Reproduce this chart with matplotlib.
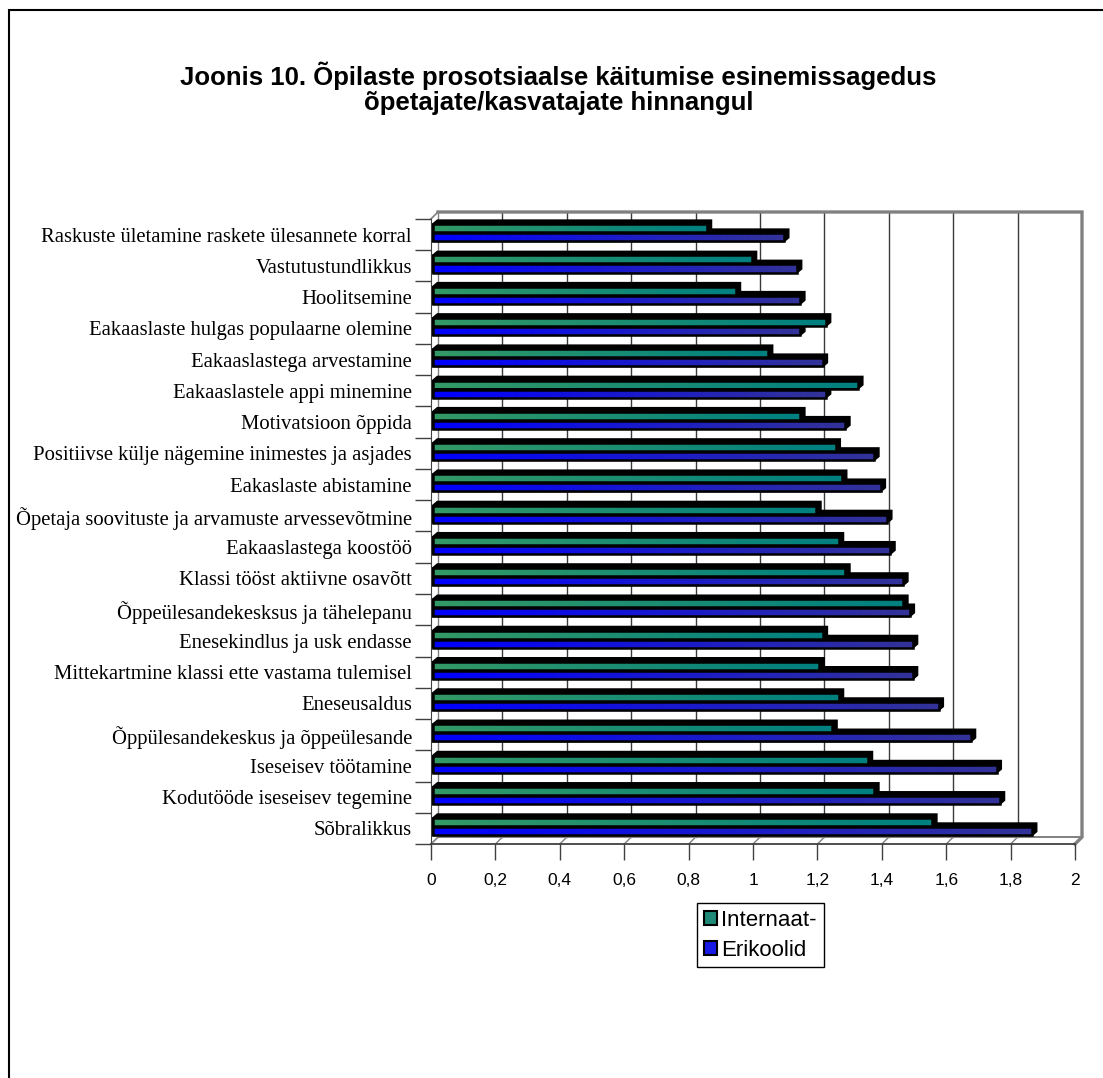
import matplotlib
matplotlib.use('Agg')
import matplotlib.pyplot as plt
from matplotlib.patches import Polygon, Patch, Rectangle
from matplotlib.colors import LinearSegmentedColormap
import numpy as np

categories = [
    'Raskuste ületamine raskete ülesannete korral',
    'Vastutustundlikkus',
    'Hoolitsemine',
    'Eakaaslaste hulgas populaarne olemine',
    'Eakaaslastega arvestamine',
    'Eakaaslastele appi minemine',
    'Motivatsioon õppida',
    'Positiivse külje nägemine inimestes ja asjades',
    'Eakaslaste abistamine',
    'Õpetaja soovituste ja arvamuste arvessevõtmine',
    'Eakaaslastega koostöö',
    'Klassi tööst aktiivne osavõtt',
    'Õppeülesandekesksus ja tähelepanu',
    'Enesekindlus ja usk endasse',
    'Mittekartmine klassi ette vastama tulemisel',
    'Eneseusaldus',
    'Õppülesandekeskus ja õppeülesande',
    'Iseseisev töötamine',
    'Kodutööde iseseisev tegemine',
    'Sõbralikkus',
]
internaat = [0.85, 0.99, 0.94, 1.22, 1.04, 1.32, 1.14, 1.25, 1.27, 1.19,
             1.26, 1.28, 1.46, 1.21, 1.20, 1.26, 1.24, 1.35, 1.37, 1.55]
erikoolid = [1.09, 1.13, 1.14, 1.14, 1.21, 1.22, 1.28, 1.37, 1.39, 1.41,
             1.42, 1.46, 1.48, 1.49, 1.49, 1.57, 1.67, 1.75, 1.76, 1.86]
series_names = ['Internaat-', 'Erikoolid']
x_ticks = [0, 0.2, 0.4, 0.6, 0.8, 1, 1.2, 1.4, 1.6, 1.8, 2]
x_labels = ['0', '0,2', '0,4', '0,6', '0,8', '1', '1,2', '1,4', '1,6', '1,8', '2']

W, H = 1103, 1078
PX_X = 322.0    # pixels per value unit
PX_Y = 31.26    # pixels per category row
ROW0 = 234.5    # pixel y of first category


def dx(px):
    return px / PX_X


def dy(px):
    return px / PX_Y


y_top = (212 - ROW0) / PX_Y
y_bot = 19.5
bottom_px = ROW0 + y_bot * PX_Y

fig = plt.figure(figsize=(W / 100, H / 100), dpi=100)
ax = fig.add_axes([431 / W, 1 - bottom_px / H, 644 / W, (bottom_px - 212) / H])

# outer frame (only left and top edges visible)
fig.add_artist(Rectangle((9 / W, -0.5), 2, 1.5 - 10 / H, transform=fig.transFigure,
                         fill=False, edgecolor='black', linewidth=1.5))

# title
title_font = dict(family='Liberation Sans', fontsize=18.5, fontweight='bold', ha='center', va='center')
fig.text(558.5 / W, 1 - 76 / H, 'Joonis 10. Õpilaste prosotsiaalse käitumise esinemissagedus', **title_font)
fig.text(558.5 / W, 1 - 103 / H, 'õpetajate/kasvatajate hinnangul', **title_font)

# 3D walls
back_x = dx(7)
y_floor = y_bot - dy(7)
wall_col = '#808080'
wall = dict(color=wall_col, zorder=1, clip_on=False)
for v in x_ticks[1:-1]:
    ax.plot([v + back_x, v + back_x], [y_top, y_floor], color='#3a3a3a', lw=1, zorder=1, clip_on=False)
    ax.plot([v + back_x, v], [y_floor, y_bot], lw=1, **wall)
ax.plot([back_x, 2 + back_x, 2 + back_x, 2], [y_top, y_top, y_floor, y_bot],
        lw=2.4, solid_joinstyle='miter', **wall)
ax.plot([back_x, 2 + back_x], [y_floor, y_floor], lw=1.4, **wall)
ax.plot([back_x, back_x], [y_top, y_floor], lw=1, **wall)
ax.plot([0, back_x], [-0.5, y_top], lw=1.2, **wall)
ax.plot([0, back_x], [y_bot, y_floor], lw=1.2, **wall)

# bars with depth and gradient front
green_cmap = LinearSegmentedColormap.from_list('g', ['#339966', '#008080'])
blue_cmap = LinearSegmentedColormap.from_list('b', ['#0000ff', '#333399'])
grad = np.linspace(0, 1, 256).reshape(1, -1)
x0 = dx(2)
bx, by = dx(4.5), dy(3.8)
series = [(erikoolid, dy(-1.3), dy(6.8), blue_cmap, 3),
          (internaat, dy(-10.3), dy(-2.3), green_cmap, 6)]
ypos = np.arange(len(categories))
for vals, t_off, b_off, cmap, z in series:
    h = b_off - t_off
    bars = ax.barh(ypos + (t_off + b_off) / 2, vals, height=h, left=x0,
                   facecolor='none', edgecolor='black', linewidth=1.8, zorder=z + 2)
    for bar, v in zip(bars, vals):
        x1 = x0 + v
        t = bar.get_y()
        b = t + h
        ax.add_patch(Polygon([(x0, b), (x0, t), (x0 + bx, t - by), (x1 + bx, t - by),
                              (x1 + bx, b - by), (x1, b)], closed=True,
                             facecolor='black', edgecolor='black', lw=1.5, zorder=z))
        im = ax.imshow(grad, cmap=cmap, extent=(x0, x1, b, t), aspect='auto',
                       interpolation='bilinear', zorder=z + 1)
        im.set_clip_path(bar)

ax.set_xlim(0, 2)
ax.set_ylim(y_bot, y_top)

for s in ['top', 'right']:
    ax.spines[s].set_visible(False)
ax.spines['left'].set_bounds(-0.5, y_bot)
ax.spines['left'].set_color('#404040')
ax.spines['bottom'].set_color('#404040')
ax.spines['bottom'].set_linewidth(1.3)

ax.set_xticks(x_ticks)
ax.set_xticklabels(x_labels, family='Liberation Sans', fontsize=12.5)
ax.tick_params(axis='x', length=11.5, width=1, color='#404040', pad=9)

ax.set_yticks(ypos)
ax.set_yticklabels(categories, family='Liberation Serif', fontsize=14.9)
ax.set_yticks(np.arange(len(categories) + 1) - 0.5, minor=True)
ax.tick_params(axis='y', which='major', length=0, pad=13.7)
ax.tick_params(axis='y', which='minor', length=11.5, width=1, color='#404040')

handles = [Patch(facecolor='#1f8a78', edgecolor='black', lw=1.5),
           Patch(facecolor='#1a1ae6', edgecolor='black', lw=1.5)]
leg = fig.legend(handles, series_names, loc='upper left', bbox_to_anchor=(697 / W, 1 - 903 / H),
                 prop={'family': 'Liberation Sans', 'size': 16}, frameon=True, fancybox=False,
                 edgecolor='black', framealpha=1, handlelength=0.6, handleheight=0.6,
                 handletextpad=0.2, labelspacing=0.4, borderpad=0.3, borderaxespad=0)
leg.get_frame().set_linewidth(1)

fig.savefig('out.png', dpi=100)
